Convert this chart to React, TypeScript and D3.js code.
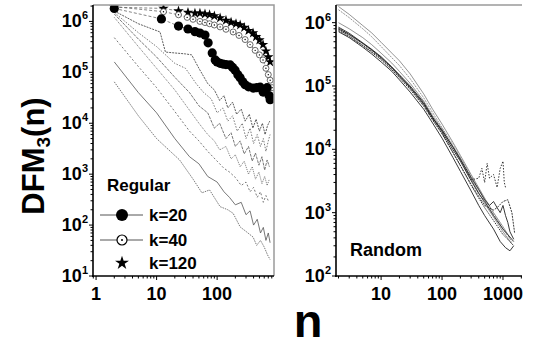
import * as d3 from 'd3';

type Pt = [number, number];

// ---------- left panel: Regular ----------
const regK20: Pt[] = [
  [2, 1.8e6], [12, 1.12e6], [23, 8.1e5], [33, 7.1e5], [43, 6.3e5], [52, 5.9e5], [63, 5.4e5],
  [71, 3.8e5], [83, 2.4e5], [93, 1.75e5], [100, 1.6e5], [112, 1.5e5], [125, 1.45e5], [140, 1.42e5],
  [164, 1.4e5], [180, 1.25e5], [198, 1.1e5], [220, 9e4], [240, 7.8e4], [265, 6.5e4], [290, 5.7e4],
  [330, 5.2e4], [393, 4.9e4], [450, 5e4], [514, 5.1e4], [575, 4.1e4], [620, 4.6e4], [670, 5e4],
  [720, 3.5e4], [752, 2.9e4], [811, 3.1e4],
];
const regK40: Pt[] = [
  [2, 1.95e6], [13, 1.55e6], [23, 1.35e6], [32, 1.2e6], [40, 1.1e6], [52, 1e6], [63, 9.5e5],
  [75, 9e5], [90, 8.5e5], [112, 7.8e5], [140, 7e5], [184, 6.2e5], [230, 5.3e5], [290, 4.4e5],
  [350, 3.5e5], [425, 2.7e5], [500, 2.2e5], [573, 1.75e5], [640, 1.2e5], [700, 9e4], [752, 7e4],
  [811, 5e4],
];
const regK120: Pt[] = [
  [2, 1.9e6], [13, 1.8e6], [23, 1.6e6], [33, 1.5e6], [43, 1.45e6], [52, 1.45e6], [63, 1.4e6],
  [75, 1.35e6], [90, 1.28e6], [112, 1.17e6], [140, 1.05e6], [170, 9.6e5], [205, 9e5], [240, 8.5e5],
  [280, 7.6e5], [330, 6.6e5], [392, 5.9e5], [440, 5e5], [500, 4.3e5], [573, 3.5e5], [640, 2.6e5],
  [700, 2e5], [750, 1.6e5],
];
const regOther: Pt[][] = [
  [[2, 1.6e6], [5, 9e5], [11.4, 6.2e5], [14, 2.5e5], [20, 2.4e5], [30, 2.3e5], [38, 2.2e5], [50, 1.2e5],
   [70, 6e4], [90, 4.5e4], [110, 2.8e4], [130, 3.5e4], [150, 2e4], [180, 2.6e4], [210, 1.5e4], [250, 1.9e4],
   [290, 1.1e4], [340, 1.5e4], [390, 8e3], [440, 1.2e4], [500, 7e3], [560, 1e4], [620, 6e3], [680, 9e3], [740, 1.1e4]],
  [[2, 1.5e6], [5, 6e5], [10, 3.2e5], [20, 1.5e5], [30, 1.2e5], [45, 6e4], [60, 4e4], [80, 3e4], [100, 1.6e4],
   [125, 2e4], [150, 1.1e4], [180, 1.4e4], [215, 7e3], [260, 1e4], [300, 5e3], [350, 8e3], [400, 4e3], [460, 6e3],
   [520, 3.5e3], [580, 5e3], [640, 2.8e3], [700, 4.5e3], [750, 6e3]],
  [[2, 1.4e6], [5, 4.5e5], [10, 2e5], [20, 8e4], [35, 4e4], [50, 2.2e4], [70, 1.6e4], [90, 8e3], [110, 1e4],
   [140, 5e3], [170, 6.5e3], [200, 3.5e3], [240, 4.5e3], [280, 2.5e3], [330, 3.5e3], [380, 1.8e3], [430, 2.6e3],
   [490, 1.5e3], [550, 2.2e3], [610, 1.2e3], [670, 1.9e3], [730, 1.4e3]],
  [[2, 1.2e6], [5, 3.2e5], [10, 1.2e5], [20, 4.5e4], [35, 1.8e4], [50, 1e4], [70, 6e3], [90, 4.5e3], [110, 3e3],
   [140, 3.5e3], [170, 2e3], [200, 2.4e3], [240, 1.4e3], [280, 1.8e3], [330, 1e3], [380, 1.4e3], [430, 800],
   [490, 1.1e3], [550, 650], [610, 900], [670, 600], [730, 800]],
  [[2, 4.8e5], [5, 1.3e5], [10, 5e4], [20, 1.7e4], [35, 7e3], [50, 4.5e3], [70, 2.8e3], [100, 1.8e3], [130, 1.3e3],
   [160, 1.1e3], [200, 860], [250, 600], [300, 700], [350, 450], [400, 550], [460, 350], [520, 450], [580, 280],
   [640, 380], [700, 300]],
  [[2, 1.6e5], [5, 4e4], [10, 1.6e4], [20, 5e3], [35, 2.2e3], [50, 1.6e3], [70, 900], [100, 700], [130, 450],
   [160, 350], [200, 250], [250, 280], [300, 160], [350, 190], [400, 100], [460, 130], [520, 70], [580, 90],
   [640, 50], [700, 70], [750, 45]],
  [[2, 6.5e4], [5, 1.4e4], [10, 5e3], [24, 1.9e3], [40, 800], [56, 430], [75, 490], [112, 230], [150, 200],
   [184, 170], [240, 92], [300, 75], [393, 58], [450, 40], [520, 50], [600, 37], [680, 26], [750, 21]],
];

// ---------- right panel: Random ----------
const rndSeries: Pt[][] = [
  [[2, 1.8e6], [3, 1.35e6], [5, 9e5], [7, 6.9e5], [10, 4.9e5], [15, 3.3e5], [20, 2.5e5], [30, 1.55e5], [50, 7.5e4],
   [70, 4.3e4], [100, 2.5e4], [150, 1.3e4], [200, 8e3], [300, 4e3], [500, 1.7e3], [700, 1e3], [1000, 600], [1300, 400]],
  [[2, 1.6e6], [3, 1.2e6], [5, 8e5], [7, 6e5], [10, 4.2e5], [15, 2.8e5], [20, 2.1e5], [30, 1.3e5], [50, 6.5e4],
   [70, 3.8e4], [100, 2.2e4], [150, 1.2e4], [200, 7.5e3], [300, 3.8e3], [500, 1.6e3], [700, 950], [1000, 550], [1400, 350]],
  [[2, 1e6], [3, 8e5], [5, 5.8e5], [7, 4.5e5], [10, 3.3e5], [15, 2.3e5], [20, 1.7e5], [30, 1.1e5], [50, 5.8e4],
   [70, 3.4e4], [100, 2.1e4], [150, 1.1e4], [200, 6.8e3], [300, 3.4e3], [500, 1.4e3], [700, 850], [1000, 500], [1400, 320]],
  [[2, 8.5e5], [3, 6.8e5], [5, 4.8e5], [7, 3.8e5], [10, 2.9e5], [15, 2e5], [20, 1.5e5], [30, 1e5], [50, 5.5e4],
   [70, 3.2e4], [100, 1.9e4], [150, 1e4], [200, 6.5e3], [300, 3.2e3], [400, 2e3], [500, 1.5e3], [700, 900],
   [1000, 550], [1200, 450], [1500, 350]],
  [[2, 7.8e5], [3, 6.2e5], [5, 4.4e5], [7, 3.5e5], [10, 2.7e5], [15, 1.85e5], [20, 1.4e5], [30, 9.2e4], [50, 5e4],
   [70, 3e4], [100, 1.8e4], [150, 9e3], [200, 5.6e3], [300, 2.7e3], [400, 1.7e3], [500, 1.2e3], [700, 750],
   [1000, 450], [1200, 380], [1500, 300]],
  [[2, 8e5], [3, 6.5e5], [5, 4.7e5], [7, 3.7e5], [10, 2.8e5], [15, 1.95e5], [20, 1.45e5], [30, 9.5e4], [50, 5.2e4],
   [70, 3.1e4], [100, 2e4], [150, 1.1e4], [200, 7e3], [300, 3.6e3], [400, 2.3e3], [500, 1.6e3], [600, 1.3e3],
   [700, 1.5e3], [800, 1.2e3], [900, 1e3], [1000, 1.3e3], [1100, 900], [1200, 700], [1300, 500], [1500, 380]],
  [[2, 7.5e5], [3, 6e5], [5, 4.3e5], [7, 3.4e5], [10, 2.6e5], [15, 1.8e5], [20, 1.35e5], [30, 8.8e4], [50, 4.8e4],
   [70, 2.9e4], [100, 1.75e4], [150, 9e3], [200, 5.5e3], [300, 2.8e3], [400, 1.8e3], [500, 1.3e3], [700, 1.1e3],
   [800, 1.2e3], [1000, 1.5e3], [1200, 1.6e3], [1400, 1e3], [1550, 480]],
  [[2, 7.2e5], [3, 5.8e5], [5, 4.1e5], [7, 3.2e5], [10, 2.4e5], [15, 1.7e5], [20, 1.25e5], [30, 8e4], [50, 4.3e4],
   [70, 2.6e4], [100, 1.5e4], [150, 7.5e3], [200, 4.5e3], [300, 2.2e3], [400, 1.3e3], [500, 900], [700, 550],
   [900, 350], [1100, 280], [1300, 250], [1500, 300]],
  [[2, 8.2e5], [3, 6.6e5], [5, 4.7e5], [7, 3.7e5], [10, 2.8e5], [15, 1.95e5], [20, 1.45e5], [30, 9.6e4], [50, 5.3e4],
   [70, 3.2e4], [100, 2e4], [150, 1.1e4], [200, 7e3], [300, 3.3e3], [400, 3.5e3], [450, 5e3], [500, 3e3],
   [550, 6e3], [600, 3.5e3], [700, 4e3], [800, 2.5e3], [900, 5e3], [1000, 6.5e3], [1050, 3e3], [1100, 2.5e3]],
];

const leftXTicks = [1, 10, 100];
const leftYTicks = [1, 2, 3, 4, 5, 6];
const rightXTicks = [10, 100, 1000];
const rightYTicks = [2, 3, 4, 5, 6];

const FONT = 'Liberation Sans, Arial, sans-serif';

function minorTicks(domain: number[]) {
  const out: number[] = [];
  for (let e = -1; e <= 7; e++) {
    for (let m = 1; m <= 9; m++) {
      const v = m * Math.pow(10, e);
      if (v >= domain[0] && v <= domain[1]) out.push(v);
    }
  }
  return out;
}

function Panel({ x, y, xLabels, yExps, border }: any) {
  const [x0, x1] = x.range();
  const [y0, y1] = y.range();
  return (
    <g fontFamily={FONT} fontWeight="bold">
      {border && (
        <path d={`M${x0},${y1}H${x1}V${y0}`} fill="none" stroke="#9a9a9a" strokeWidth={1.5} />
      )}
      {!border && <line x1={x0} x2={x1} y1={y1} y2={y1} stroke="#9a9a9a" strokeWidth={1.5} />}
      <line x1={x0} x2={x0} y1={y1} y2={y0 + 1} stroke="#000" strokeWidth={1.6} />
      <line x1={x0 - 1} x2={x1} y1={y0} y2={y0} stroke="#000" strokeWidth={1.6} />
      {minorTicks(x.domain()).map((v, i) => {
        const major = Math.abs(Math.log10(v) - Math.round(Math.log10(v))) < 1e-9;
        return <line key={'xt' + i} x1={x(v)} x2={x(v)} y1={y0} y2={y0 + (major ? 4 : 2.5)} stroke="#000" strokeWidth={1} />;
      })}
      {minorTicks(y.domain()).map((v, i) => {
        const major = Math.abs(Math.log10(v) - Math.round(Math.log10(v))) < 1e-9;
        return <line key={'yt' + i} x1={x0} x2={x0 - (major ? 4 : 2.5)} y1={y(v)} y2={y(v)} stroke="#000" strokeWidth={1} />;
      })}
      {xLabels.map((v: number) => (
        <text key={'xl' + v} x={x(v)} y={300} textAnchor="middle" fontSize={18}>{v}</text>
      ))}
      {yExps.map((e: number) => (
        <text key={'yl' + e} x={x0 - 5} y={y(Math.pow(10, e)) + 6} textAnchor="end" fontSize={18}>
          10<tspan fontSize={11} dy={-8}>{e}</tspan>
        </text>
      ))}
    </g>
  );
}

export default function App() {
  const xL = d3.scaleLog().domain([0.89, 870]).range([93, 274]);
  const yL = d3.scaleLog().domain([10, 2.1e6]).range([276, 5]);
  const xR = d3.scaleLog().domain([1.82, 2050]).range([336, 522]);
  const yR = d3.scaleLog().domain([100, 1.9e6]).range([276, 5]);

  const lineL = d3.line<Pt>().x(d => xL(d[0])).y(d => yL(d[1]));
  const lineR = d3.line<Pt>().x(d => xR(d[0])).y(d => yR(d[1]));
  const star = d3.symbol().type(d3.symbolStar).size(34)();
  const starLeg = d3.symbol().type(d3.symbolStar).size(60)();
  const dashes = ['2,1', '1.5,1.5', '3,1', '1,1', '2,2', 'none', '1.5,1'];
  const rdash = ['none', '2,1', 'none', 'none', '1.5,1', 'none', '2,1', 'none', '1.5,1.5'];

  return (
    <svg width={540} height={349} style={{ position: 'absolute', left: 0, top: 0, background: '#fff' }}>
      <defs>
        <clipPath id="cl"><rect x={93} y={5} width={181} height={271} /></clipPath>
        <clipPath id="cr"><rect x={336} y={5} width={186} height={271} /></clipPath>
      </defs>

      {/* left panel data */}
      <g clipPath="url(#cl)" fill="none">
        {regOther.map((s, i) => (
          <path key={i} d={lineL(s) || ''} stroke={i === 0 ? '#333' : '#555'} strokeWidth={0.8}
            strokeDasharray={dashes[i % dashes.length]} />
        ))}
        {[regK120, regK40, regK20].map((s, i) => (
          <path key={'h' + i} d={lineL(s) || ''} stroke="#666" strokeWidth={0.8} strokeDasharray="3,2" />
        ))}
        {regK120.map((d, i) => (
          <path key={'s' + i} d={star || ''} transform={`translate(${xL(d[0])},${yL(d[1])})`} fill="#000" />
        ))}
        {regK40.map((d, i) => (
          <g key={'o' + i}>
            <circle cx={xL(d[0])} cy={yL(d[1])} r={3} fill="#fff" stroke="#444" strokeWidth={0.8} />
            <circle cx={xL(d[0])} cy={yL(d[1])} r={0.7} fill="#000" />
          </g>
        ))}
        {regK20.map((d, i) => (
          <circle key={'f' + i} cx={xL(d[0])} cy={yL(d[1])} r={4.6} fill="#000" />
        ))}
      </g>

      {/* right panel data */}
      <g clipPath="url(#cr)" fill="none">
        {rndSeries.map((s, i) => (
          <path key={i} d={lineR(s) || ''} stroke={i < 3 ? '#666' : '#222'} strokeWidth={i < 3 ? 0.7 : 0.9}
            strokeDasharray={rdash[i]} />
        ))}
      </g>

      <Panel x={xL} y={yL} xLabels={leftXTicks} yExps={leftYTicks} border={true} />
      <Panel x={xR} y={yR} xLabels={rightXTicks} yExps={rightYTicks} border={false} />

      {/* legend */}
      <g fontFamily={FONT} fontWeight="bold" fontSize={17}>
        <text x={107} y={191}>Regular</text>
        <line x1={100} x2={143} y1={215} y2={215} stroke="#555" strokeWidth={1} />
        <circle cx={122} cy={215} r={6} fill="#000" />
        <text x={149} y={221}>k=20</text>
        <line x1={100} x2={143} y1={240} y2={240} stroke="#555" strokeWidth={1} />
        <circle cx={122} cy={240} r={5} fill="#fff" stroke="#000" strokeWidth={1.2} />
        <circle cx={122} cy={240} r={1} fill="#000" />
        <text x={149} y={246}>k=40</text>
        <path d={starLeg || ''} transform="translate(122,263)" fill="#000" />
        <text x={149} y={269}>k=120</text>
        <text x={350} y={256} fontSize={18}>Random</text>
      </g>

      {/* axis titles */}
      <g fontFamily={FONT} fontWeight="bold">
        <text transform="translate(44,156) rotate(-90)" textAnchor="middle" fontSize={31}>
          DFM<tspan fontSize={19} dy={6}>3</tspan><tspan dy={-6}>(n)</tspan>
        </text>
        <text x={308} y={337} textAnchor="middle" fontSize={47}>n</text>
      </g>
    </svg>
  );
}
